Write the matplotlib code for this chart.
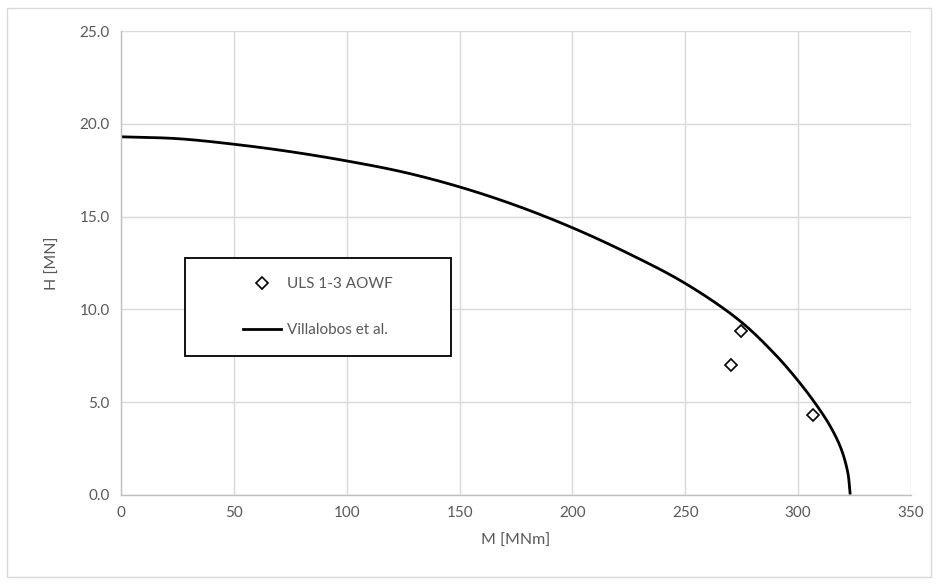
import numpy as np
import matplotlib.pyplot as plt
from matplotlib.patches import Rectangle

# Villalobos et al. failure envelope
curve_m = [0, 25, 50, 75, 100, 125, 150, 175, 200, 225, 250, 274, 290, 300, 307.5, 314, 319, 322, 323]
curve_h = [19.3, 19.2, 18.9, 18.5, 18.0, 17.4, 16.6, 15.6, 14.4, 13.0, 11.4, 9.4, 7.55, 6.15, 4.95, 3.75, 2.5, 1.2, 0.1]

# ULS 1-3 AOWF load cases
uls_m = [270.2, 274.8, 306.5]
uls_h = [7.0, 8.85, 4.3]

x_ticks = [0, 50, 100, 150, 200, 250, 300, 350]
y_ticks = [0, 5, 10, 15, 20, 25]


def smooth(xs, ys, yscale=8.2, n=24):
    # centripetal Catmull-Rom through the points, like Excel's smoothed line
    p = np.column_stack([xs, np.asarray(ys) * yscale]).astype(float)
    p = np.vstack([2 * p[0] - p[1], p, 2 * p[-1] - p[-2]])
    out = []
    for i in range(1, len(p) - 2):
        p0, p1, p2, p3 = p[i - 1], p[i], p[i + 1], p[i + 2]
        t0 = 0.0
        t1 = t0 + np.linalg.norm(p1 - p0) ** 0.5
        t2 = t1 + np.linalg.norm(p2 - p1) ** 0.5
        t3 = t2 + np.linalg.norm(p3 - p2) ** 0.5
        t = np.linspace(t1, t2, n, endpoint=False)[:, None]
        a1 = (t1 - t) / (t1 - t0) * p0 + (t - t0) / (t1 - t0) * p1
        a2 = (t2 - t) / (t2 - t1) * p1 + (t - t1) / (t2 - t1) * p2
        a3 = (t3 - t) / (t3 - t2) * p2 + (t - t2) / (t3 - t2) * p3
        b1 = (t2 - t) / (t2 - t0) * a1 + (t - t0) / (t2 - t0) * a2
        b2 = (t3 - t) / (t3 - t1) * a2 + (t - t1) / (t3 - t1) * a3
        out.append((t2 - t) / (t2 - t1) * b1 + (t - t1) / (t2 - t1) * b2)
    out.append(p[-2][None, :])
    out = np.vstack(out)
    return out[:, 0], out[:, 1] / yscale


plt.rcParams['font.family'] = ['Lato', 'DejaVu Sans']
grey_text = '#595959'

fig = plt.figure(figsize=(9.39, 5.84), dpi=100)
ax = fig.add_axes([0.1289, 0.1524, 0.8413, 0.7945])

fig.patches.append(Rectangle((7 / 939, 7 / 584), 924 / 939, 569 / 584, transform=fig.transFigure,
                             fill=False, edgecolor='#d9d9d9', linewidth=1.0))

sm_m, sm_h = smooth(curve_m, curve_h)
ax.plot(uls_m, uls_h, linestyle='none', marker='D', markersize=6.5,
        markerfacecolor='white', markeredgecolor='black', markeredgewidth=1.2,
        label='ULS 1-3 AOWF', zorder=3)
ax.plot(sm_m, sm_h, color='black', linewidth=2.0, label='Villalobos et al.', zorder=2)

ax.set_xlim(0, 350)
ax.set_ylim(0, 25)
ax.set_xticks(x_ticks)
ax.set_yticks(y_ticks)
ax.set_yticklabels([f'{v:.1f}' for v in y_ticks])
ax.tick_params(length=0, labelsize=11, colors=grey_text, pad=8)
ax.grid(True, color='#d9d9d9', linewidth=1.0)
ax.set_axisbelow(True)
for side in ['top', 'right']:
    ax.spines[side].set_visible(False)
for side in ['left', 'bottom']:
    ax.spines[side].set_color('#bfbfbf')
    ax.spines[side].set_linewidth(1.0)

ax.set_xlabel('M [MNm]', fontsize=11.5, color=grey_text, labelpad=10)
ax.set_ylabel('H [MN]', fontsize=11.5, color=grey_text, labelpad=14)

# legend box drawn separately, entries centred inside it
ax.add_patch(Rectangle((0.081, 0.30), 0.337, 0.211, transform=ax.transAxes,
                       facecolor='white', edgecolor='black', linewidth=1.3, zorder=4))
leg = ax.legend(loc='center left', bbox_to_anchor=(0.1544, 0.405), frameon=False,
                fontsize=11, labelcolor=grey_text, borderpad=0, labelspacing=2.1,
                handlelength=2.5, handletextpad=0.4, borderaxespad=0)
leg.set_zorder(5)

fig.savefig('out.png', dpi=100)
